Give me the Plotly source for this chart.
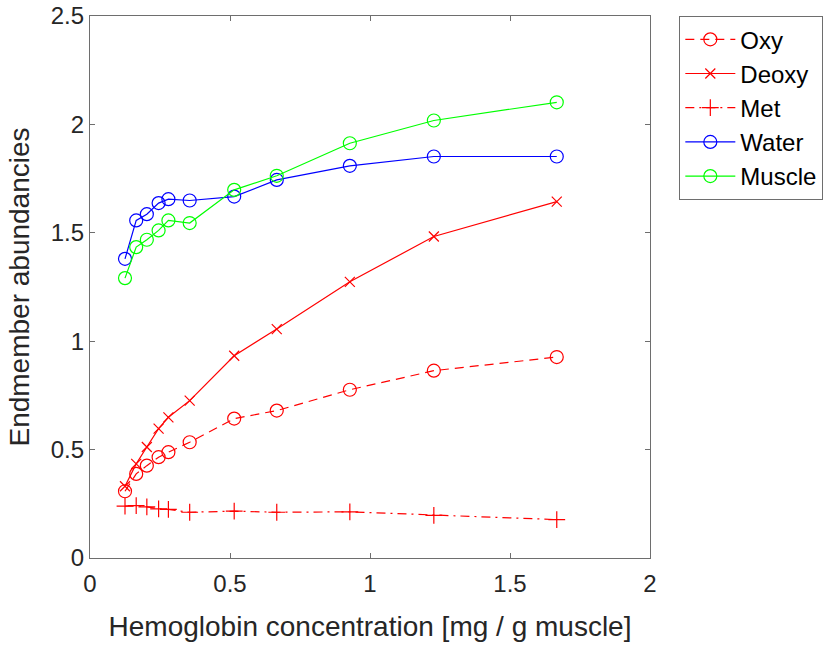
import plotly.graph_objects as go

# Hemoglobin concentration [mg / g muscle]
hb_conc = [0.125, 0.165, 0.203, 0.245, 0.28, 0.356, 0.515, 0.667, 0.928, 1.228, 1.667]

# Endmember abundances per concentration
oxy = [0.308, 0.388, 0.426, 0.465, 0.488, 0.534, 0.643, 0.680, 0.776, 0.864, 0.927]
deoxy = [0.331, 0.434, 0.512, 0.597, 0.649, 0.726, 0.933, 1.056, 1.274, 1.483, 1.644]
met = [0.239, 0.242, 0.236, 0.227, 0.224, 0.211, 0.216, 0.211, 0.213, 0.197, 0.177]
water = [1.380, 1.557, 1.586, 1.637, 1.655, 1.649, 1.667, 1.744, 1.809, 1.852, 1.852]
muscle = [1.291, 1.434, 1.468, 1.511, 1.557, 1.545, 1.698, 1.763, 1.913, 2.018, 2.102]

x_ticks = [0, 0.5, 1, 1.5, 2]
x_tick_labels = ["0", "0.5", "1", "1.5", "2"]
y_ticks = [0, 0.5, 1, 1.5, 2, 2.5]
y_tick_labels = ["0", "0.5", "1", "1.5", "2", "2.5"]

RED = "#FF0000"
BLUE = "#0000FF"
GREEN = "#00FF00"
FONT = "Liberation Sans, Arial, Helvetica, sans-serif"

series = [
    ("Oxy", oxy, RED, "circle-open", 13, "9px,6px"),
    ("Deoxy", deoxy, RED, "x-thin-open", 10, "solid"),
    ("Met", met, RED, "cross-thin-open", 12, "9px,5px,2px,5px"),
    ("Water", water, BLUE, "circle-open", 13, "solid"),
    ("Muscle", muscle, GREEN, "circle-open", 13, "solid"),
]

fig = go.Figure()
for name, vals, color, symbol, size, dash in series:
    fig.add_trace(go.Scatter(
        x=hb_conc, y=vals, name=name, mode="lines+markers",
        line=dict(color=color, width=1.2, dash=dash),
        marker=dict(symbol=symbol, size=size, color=color,
                    line=dict(color=color, width=1.2)),
    ))

axis_common = dict(
    showgrid=False, zeroline=False, showline=True, mirror="ticks",
    linecolor="#6e6e6e", linewidth=1.3,
    ticks="inside", ticklen=5, tickwidth=1.2, tickcolor="#6e6e6e",
    tickfont=dict(family=FONT, size=24, color="#262626"),
    title_font=dict(family=FONT, size=28, color="#262626"),
    automargin=False,
)

fig.update_xaxes(
    range=[0, 2], tickvals=x_ticks, ticktext=x_tick_labels,
    title_text="Hemoglobin concentration [mg / g muscle]", title_standoff=20,
    ticklabelstandoff=4,
    **axis_common,
)
fig.update_yaxes(
    range=[0, 2.5], tickvals=y_ticks, ticktext=y_tick_labels,
    title_text="Endmember abundancies", title_standoff=12,
    **axis_common,
)

fig.update_layout(
    width=825, height=646,
    margin=dict(l=90, r=175, t=16, b=88, autoexpand=False),
    plot_bgcolor="white", paper_bgcolor="white",
    font=dict(family=FONT, color="#262626"),
    showlegend=True,
    legend=dict(
        x=1.052, y=1.0, xanchor="left", yanchor="top",
        bordercolor="#6e6e6e", borderwidth=1.2, bgcolor="white",
        font=dict(family=FONT, size=24, color="#000000"),
        itemwidth=50, tracegroupgap=0,
    ),
)

fig.write_html("out.html")
